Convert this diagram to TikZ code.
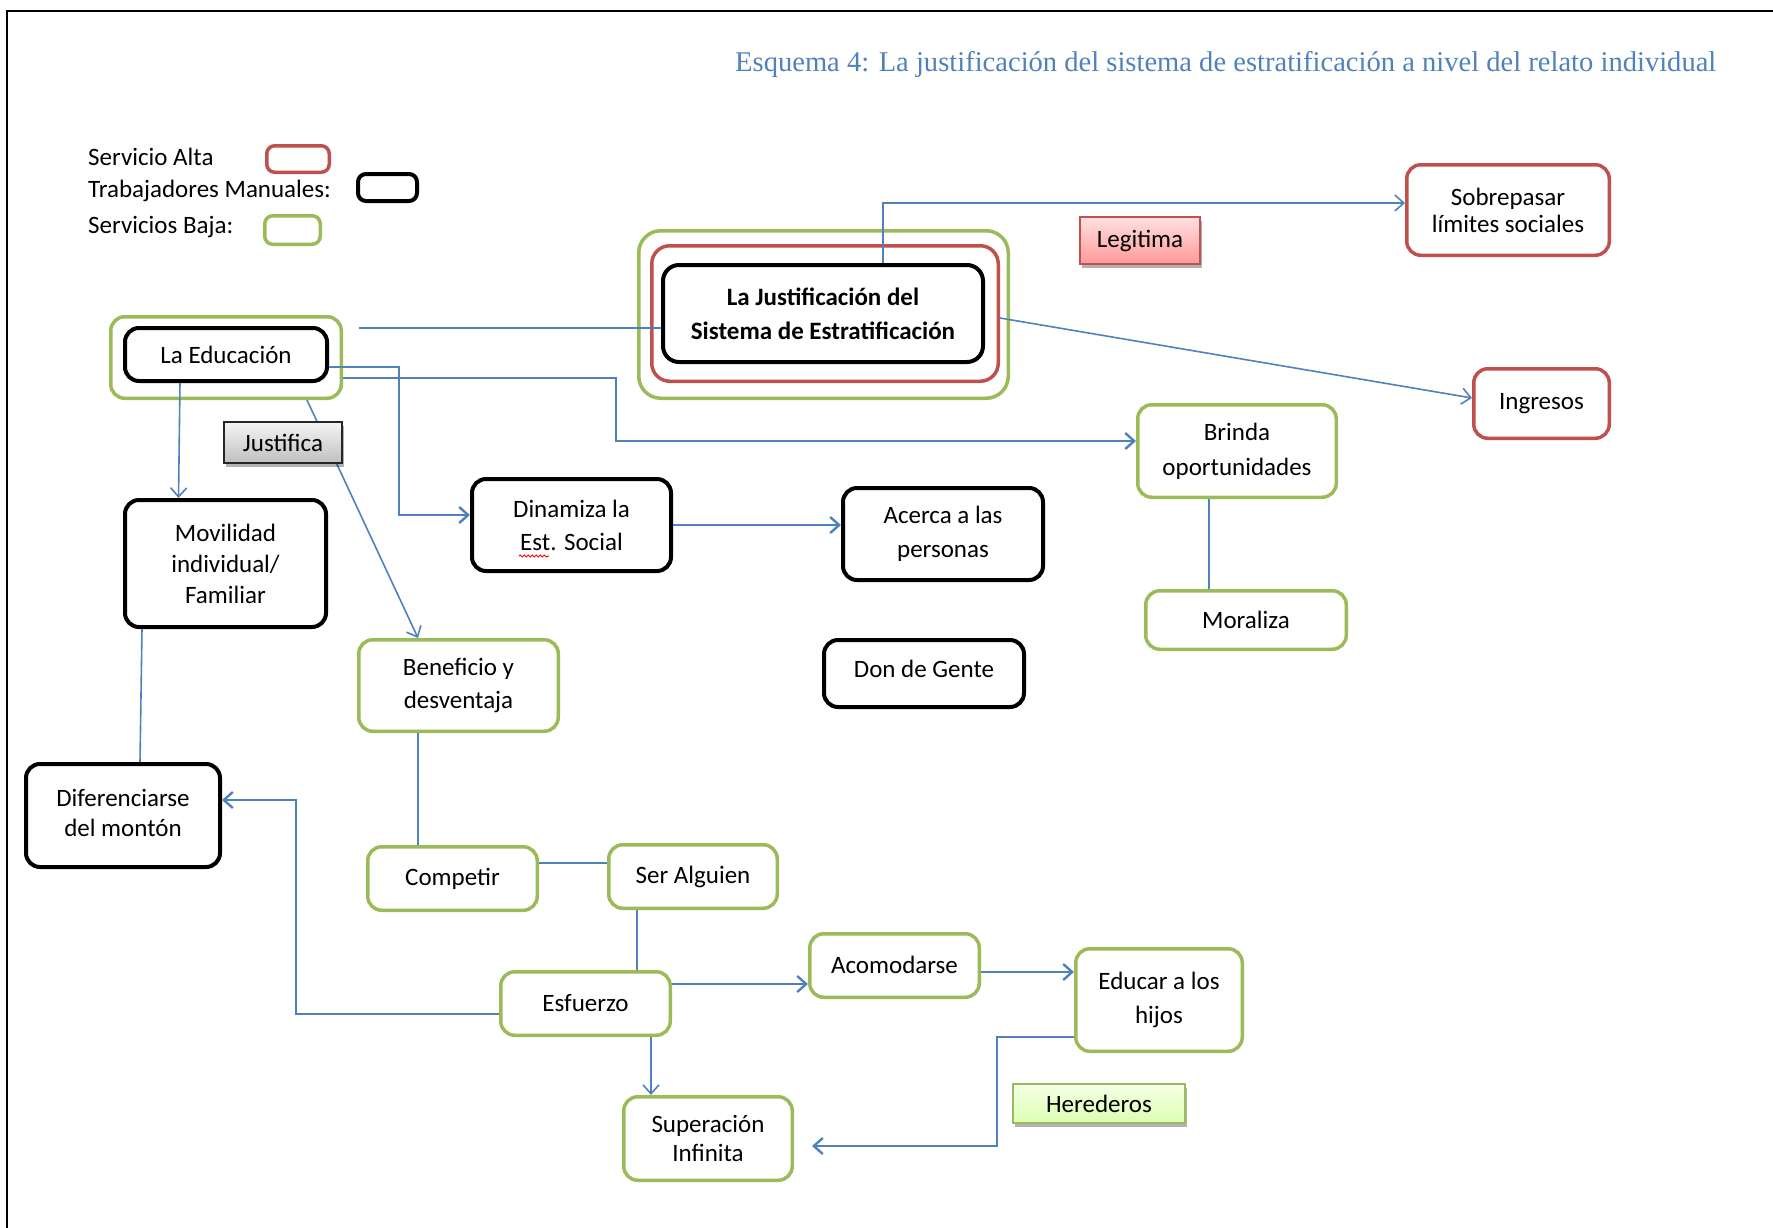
\documentclass[tikz,border=0pt]{standalone}
\usepackage{graphicx}
\usepackage{fontspec}
\setmainfont{Carlito}
\newfontfamily\titlefont{Liberation Serif}
\usetikzlibrary{arrows.meta,shadows,decorations.pathmorphing,calc}
\definecolor{lineblue}{HTML}{4F81BD}
\definecolor{ogreen}{HTML}{9BBB59}
\definecolor{ored}{HTML}{C0504D}
\definecolor{titleblue}{HTML}{4F81BD}

\begin{document}
\begin{tikzpicture}[x=1pt,y=-1pt,
  every node/.style={font=\fontsize{25}{33}\selectfont, align=center, inner sep=0pt, text=black},
  bbox/.style={draw=black, line width=4pt, rounded corners=14pt, fill=white},
  gbox/.style={draw=ogreen, line width=3.5pt, rounded corners=14pt, fill=white},
  rbox/.style={draw=ored, line width=3.5pt, rounded corners=14pt, fill=white},
  link/.style={draw=lineblue, line width=1.6pt},
  boldlink/.style={draw=lineblue, line width=2.4pt},
  arr/.style={-{Straight Barb[length=9pt,width=16pt]}},
  tagshadow/.style={drop shadow={shadow xshift=2pt, shadow yshift=-4pt, fill=black, opacity=0.3}},
]
\useasboundingbox (0,0) rectangle (1773,1227);

% page frame
\draw[line width=2pt] (7,1240) -- (7,11) -- (1790,11);

% title
\node[anchor=base west, text=titleblue] (title) at (735,71)
  {\resizebox{981pt}{!}{\titlefont\fontsize{26}{30}\selectfont Esquema 4: La justificación del sistema de estratificación a nivel del relato individual}};

% legend
\node[anchor=west] (lg1) at (88,157) {Servicio Alta};
\node[anchor=west] (lg2) at (88,191) {Trabajadores Manuales:};
\node[anchor=west] (lg3) at (88,227) {Servicios Baja:};
\node[rbox, rounded corners=8pt, minimum width=62.5pt, minimum height=26.5pt] (lk1) at (298,159) {};
\node[bbox, rounded corners=8pt, minimum width=59pt, minimum height=27pt] (lk2) at (387.5,187.5) {};
\node[gbox, rounded corners=8pt, minimum width=55.5pt, minimum height=28.5pt] (lk3) at (292.5,230) {};

% central concept
\node[gbox, rounded corners=22pt, minimum width=369.5pt, minimum height=167.5pt] (cg) at (823.5,314.5) {};
\node[rbox, rounded corners=18pt, minimum width=346.5pt, minimum height=135.5pt] (cr) at (825,313.5) {};
\node[bbox, rounded corners=16pt, minimum width=320pt, minimum height=97pt,
      font=\fontsize{25}{34}\selectfont\bfseries] (cb) at (823,313.5) {La Justificación del\\Sistema de Estratificación};

% boxes
\node[rbox, minimum width=202.5pt, minimum height=90.5pt, font=\fontsize{25}{27}\selectfont] (sob) at (1508,210) {Sobrepasar\\límites sociales};
\node[rbox, minimum width=135.5pt, minimum height=69.5pt] (ing) at (1541.5,403.5) {\raisebox{-2pt}{Ingresos}};
\node[gbox, minimum width=198.5pt, minimum height=92.5pt, font=\fontsize{25}{35}\selectfont] (bri) at (1237,451) {Brinda\\oportunidades};
\node[gbox, minimum width=200.5pt, minimum height=58.5pt] (mor) at (1246,620) {Moraliza};
\node[gbox, minimum width=230.5pt, minimum height=81.5pt] (eg) at (226,357.5) {};
\node[bbox, minimum width=202pt, minimum height=53pt] (eb) at (226,354.5) {La Educación};
\node[bbox, minimum width=201pt, minimum height=127pt, font=\fontsize{25}{31}\selectfont] (mov) at (225.5,563.5) {Movilidad\\individual/\\Familiar};
\node[bbox, minimum width=199pt, minimum height=92pt] (din) at (571.5,525) {Dinamiza la\\Est. Social};
\node[bbox, minimum width=200pt, minimum height=92pt, font=\fontsize{25}{34}\selectfont] (ace) at (943,534) {Acerca a las\\personas};
\node[bbox, minimum width=200pt, minimum height=67pt] (don) at (924,673.5) {\raisebox{10pt}{Don de Gente}};
\node[gbox, minimum width=199.5pt, minimum height=91.5pt] (ben) at (458.5,685.5) {\raisebox{-3pt}{\begin{tabular}{@{}c@{}}Beneficio y\\desventaja\end{tabular}}};
\node[bbox, minimum width=194pt, minimum height=103pt, font=\fontsize{25}{30}\selectfont] (dif) at (123,815.5) {\raisebox{4pt}{\begin{tabular}{@{}c@{}}Diferenciarse\\del montón\end{tabular}}};
\node[gbox, minimum width=169.5pt, minimum height=63.5pt] (com) at (452.5,878.5) {\raisebox{2pt}{Competir}};
\node[gbox, minimum width=168.5pt, minimum height=63.5pt] (ser) at (693,876.5) {\raisebox{2pt}{Ser Alguien}};
\node[gbox, minimum width=169.5pt, minimum height=63.5pt] (esf) at (585.5,1003.5) {\raisebox{2pt}{Esfuerzo}};
\node[gbox, minimum width=169.5pt, minimum height=63.5pt] (aco) at (894.5,965.5) {\raisebox{2pt}{Acomodarse}};
\node[gbox, minimum width=166.5pt, minimum height=102.5pt, font=\fontsize{25}{34}\selectfont] (edc) at (1159,1000) {Educar a los\\hijos};
\node[gbox, minimum width=168.5pt, minimum height=83.5pt, font=\fontsize{25}{29}\selectfont] (sup) at (708,1138.5) {Superación\\Infinita};

% spell-check squiggle under "Est."
\draw[red, line width=1pt, decorate, decoration={snake, amplitude=1pt, segment length=4pt}] (519,556) -- (549,556);

% connectors
\draw[link, arr] ([xshift=60pt]cb.north) |- ([yshift=7pt]sob.west);
\draw[link, arr] ([yshift=-4.5pt]cr.east) -- ([yshift=5.5pt]ing.west);
\coordinate (edufree) at (359,328);
\draw[link] (edufree) -- (edufree -| cb.west);
\draw[boldlink, arr] ([yshift=-12.5pt]eb.east) -- ++(70,0) |- ([yshift=10pt]din.west);
\draw[boldlink, arr] ([yshift=-20.5pt]eg.east) -- ++(273,0) |- ([yshift=10pt]bri.west);
\draw[link, arr] ([xshift=-46pt]eb.south) -- ([xshift=-47pt]mov.north);
\draw[link, arr] ([xshift=81pt]eg.south) -- ([xshift=-40.5pt]ben.north);
\draw[boldlink, arr] (din.east) -- (din.east -| ace.west);
\draw[link] ([xshift=-28pt]bri.south) -- ([xshift=-28pt]bri.south |- mor.north);
\draw[link] ([xshift=-83.5pt]mov.south) -- ([xshift=17pt]dif.north);
\draw[link] ([xshift=-40.5pt]ben.south) -- ([xshift=-40.5pt]ben.south |- com.north);
\draw[boldlink] ([yshift=15.5pt]com.east) -- ([yshift=15.5pt]com.east -| ser.west);
\draw[link] ([xshift=-56pt]ser.south) -- ([xshift=-56pt]ser.south |- esf.north);
\draw[boldlink, arr] ([yshift=19.5pt]esf.east) -- ([yshift=19.5pt]esf.east -| aco.west);
\draw[boldlink, arr] ([yshift=-6.5pt]aco.east) -- ([yshift=-6.5pt]aco.east -| edc.west);
\draw[boldlink, arr] ([yshift=-10.5pt]esf.west) -- ++(-203,0) |- ([yshift=15.5pt]dif.east);
\draw[link, arr] ([xshift=65.5pt]esf.south) -- ([xshift=65.5pt]esf.south |- sup.north);
\coordinate (supend) at ([xshift=18pt,yshift=-7.5pt]sup.east);
\draw[boldlink, arr] ([yshift=-37pt]edc.west) -- ++(-77,0) |- (supend);

% relation tags
\node[draw=ored, line width=2pt, top color=red!12, bottom color=red!40!white, tagshadow,
      minimum width=120pt, minimum height=47pt] (leg) at (1140,240.5) {Legitima};
\node[draw=black!85, line width=2pt, top color=black!4, bottom color=black!25, tagshadow,
      minimum width=118pt, minimum height=41pt] (jus) at (283,442.5) {Justifica};
\node[draw=ogreen, line width=2pt, top color=green!40!yellow!10, bottom color=green!45!yellow!30, tagshadow,
      minimum width=172pt, minimum height=39pt] (her) at (1099,1103.5) {Herederos};
\end{tikzpicture}
\end{document}
